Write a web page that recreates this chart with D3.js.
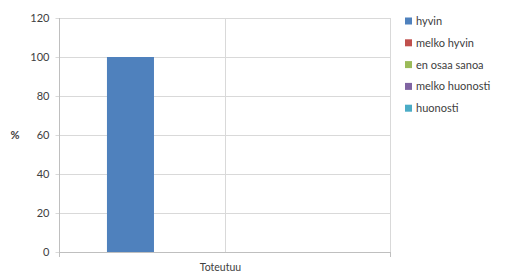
<!DOCTYPE html>
<html>
<head>
<meta charset="utf-8">
<script src="https://cdn.jsdelivr.net/npm/d3@7"></script>
<style>
body { margin: 0; background: #fff; }
text { font-family: Lato, "Open Sans", sans-serif; fill: #404040; }
</style>
</head>
<body>
<svg id="svg"></svg>
<script>
var width = 507, height = 275;
var svg = d3.select("#svg")
	.attr("width", width)
	.attr("height", height);

// data
var categories = ["Toteutuu"];
var seriesNames = ["hyvin", "melko hyvin", "en osaa sanoa", "melko huonosti", "huonosti"];
var seriesValues = [[100], [0], [0], [0], [0]];
var yTicks = [0, 20, 40, 60, 80, 100, 120];
var colors = ["#4f81bd", "#c0504d", "#9bbb59", "#8064a2", "#4bacc6"];

var plotLeft = 59, plotRight = 390, plotTop = 18, plotBottom = 252;

var y = d3.scaleLinear()
	.domain([0, 120])
	.range([plotBottom, plotTop]);
var x = d3.scaleBand()
	.domain(categories)
	.range([plotLeft, plotRight]);
var xInner = d3.scaleBand()
	.domain(seriesNames)
	.range([0, x.bandwidth()])
	.paddingOuter(1.02)
	.paddingInner(0);

// horizontal gridlines
svg.append("g")
	.selectAll("line")
	.data(yTicks)
	.enter()
	.append("line")
	.attr("x1", plotLeft)
	.attr("x2", plotRight)
	.attr("y1", function(d) { return Math.round(y(d)) + 0.5; })
	.attr("y2", function(d) { return Math.round(y(d)) + 0.5; })
	.style("stroke", "#d9d9d9");

// vertical gridlines
var vLines = [plotLeft, (plotLeft + plotRight) / 2, plotRight];
svg.append("g")
	.selectAll("line")
	.data(vLines)
	.enter()
	.append("line")
	.attr("x1", function(d) { return Math.round(d) + 0.5; })
	.attr("x2", function(d) { return Math.round(d) + 0.5; })
	.attr("y1", plotTop)
	.attr("y2", plotBottom)
	.style("stroke", "#d9d9d9");

// bars
var group = svg.append("g")
	.selectAll("g")
	.data(seriesNames)
	.enter()
	.append("g")
	.style("fill", function(d, i) { return colors[i]; });
group.selectAll("rect")
	.data(function(d, i) { return seriesValues[i].map(function(v, j) { return { s: d, c: categories[j], v: v }; }); })
	.enter()
	.append("rect")
	.attr("x", function(d) { return x(d.c) + xInner(d.s); })
	.attr("y", function(d) { return y(d.v); })
	.attr("width", xInner.bandwidth())
	.attr("height", function(d) { return plotBottom - y(d.v); });

// y axis
var yAxis = d3.axisLeft(y).tickValues(yTicks).tickSize(4).tickPadding(6);
var gy = svg.append("g")
	.attr("transform", "translate(" + (plotLeft + 0.5) + ",0)")
	.call(yAxis);
gy.select(".domain").remove();
gy.selectAll("line").style("stroke", "#d9d9d9");
gy.selectAll("text").style("font-size", "11px").style("fill", "#404040").style("font-family", "Lato, sans-serif");
svg.append("line")
	.attr("x1", plotLeft + 0.5).attr("x2", plotLeft + 0.5)
	.attr("y1", plotTop).attr("y2", plotBottom + 5)
	.style("stroke", "#bfbfbf");

// x axis
svg.append("line")
	.attr("x1", plotLeft).attr("x2", plotRight + 1)
	.attr("y1", plotBottom + 0.5).attr("y2", plotBottom + 0.5)
	.style("stroke", "#bfbfbf");
svg.append("line")
	.attr("x1", plotRight + 0.5).attr("x2", plotRight + 0.5)
	.attr("y1", plotBottom).attr("y2", plotBottom + 5)
	.style("stroke", "#bfbfbf");
svg.append("g")
	.selectAll("text")
	.data(categories)
	.enter()
	.append("text")
	.attr("x", function(d) { return x(d) + x.bandwidth() / 2 - 4; })
	.attr("y", 271)
	.style("text-anchor", "middle")
	.style("font-size", "10.5px")
	.text(function(d) { return d; });

// y title
svg.append("text")
	.attr("x", 15)
	.attr("y", 139)
	.style("text-anchor", "middle")
	.style("font-size", "11px")
	.style("font-weight", "bold")
	.text("%");

// legend
var legend = svg.append("g")
	.selectAll("g")
	.data(seriesNames)
	.enter()
	.append("g")
	.attr("transform", function(d, i) { return "translate(405," + (21 + i * 21.8) + ")"; });
legend.append("rect")
	.attr("x", 0)
	.attr("y", -3.5)
	.attr("width", 7)
	.attr("height", 7)
	.style("fill", function(d, i) { return colors[i]; });
legend.append("text")
	.attr("x", 11)
	.attr("y", 4)
	.style("font-size", "11px")
	.text(function(d) { return d; });
</script>
</body>
</html>
